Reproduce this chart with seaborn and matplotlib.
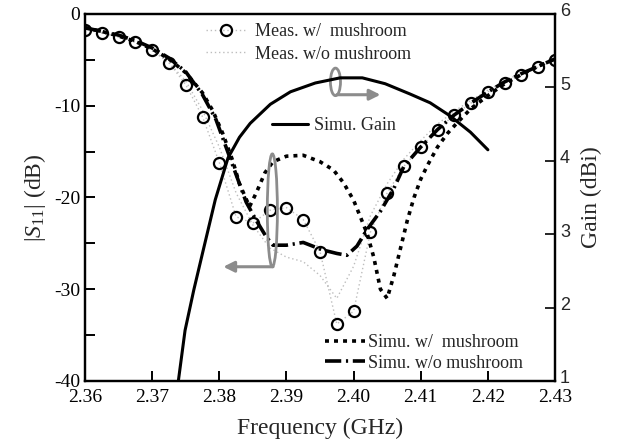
import matplotlib
matplotlib.use("Agg")
import matplotlib.pyplot as plt
import matplotlib.transforms as mtransforms
from matplotlib.patches import Ellipse
from matplotlib.lines import Line2D
import seaborn as sns
import pandas as pd
import numpy as np

sns.set_style("ticks")
plt.rcParams['font.family'] = ['Liberation Serif', 'DejaVu Serif']
plt.rcParams['mathtext.fontset'] = 'custom'
plt.rcParams['mathtext.rm'] = 'Liberation Serif'
plt.rcParams['mathtext.it'] = 'Liberation Serif:italic'
plt.rcParams['axes.unicode_minus'] = False

# measured, with mushroom (circles)
meas_w_f = [2.3600, 2.3625, 2.3650, 2.3675, 2.3700, 2.3725, 2.3750, 2.3775, 2.3800,
            2.3825, 2.3850, 2.3875, 2.3900, 2.3925, 2.3950, 2.3975, 2.4000, 2.4025,
            2.4050, 2.4075, 2.4100, 2.4125, 2.4150, 2.4175, 2.4200, 2.4225, 2.4250,
            2.4275, 2.4300]
meas_w_s = [-1.7, -2.1, -2.5, -3.0, -3.9, -5.3, -7.7, -11.2, -16.2,
            -22.1, -22.8, -21.4, -21.1, -22.4, -25.9, -33.8, -32.4, -23.8,
            -19.5, -16.6, -14.5, -12.6, -11.0, -9.7, -8.5, -7.5, -6.6,
            -5.8, -5.0]

# measured, without mushroom (faint line)
meas_wo_f = [2.3600, 2.3625, 2.3650, 2.3675, 2.3700, 2.3725, 2.3750, 2.3775, 2.3800,
             2.3825, 2.3850, 2.3875, 2.3900, 2.3925, 2.3950, 2.3975, 2.4000, 2.4025,
             2.4050, 2.4075, 2.4100, 2.4125, 2.4150, 2.4175, 2.4200, 2.4225, 2.4250,
             2.4275, 2.4300]
meas_wo_s = [-1.6, -2.0, -2.5, -3.1, -4.0, -5.3, -7.3, -10.5, -14.5,
             -19.5, -23.0, -25.5, -26.5, -27.0, -28.5, -31.0, -27.5, -22.0,
             -18.5, -15.8, -13.8, -12.0, -10.6, -9.4, -8.3, -7.3, -6.4,
             -5.6, -4.9]

# simulated, with mushroom
simu_w_f = [2.3600, 2.3625, 2.3650, 2.3675, 2.3700, 2.3725, 2.3750, 2.3775, 2.3790,
            2.3805, 2.3820, 2.3830, 2.3845, 2.3855, 2.3868, 2.3880, 2.3900, 2.3925,
            2.3950, 2.3970, 2.3985, 2.4000, 2.4010, 2.4020, 2.4030, 2.4040, 2.4050,
            2.4060, 2.4070, 2.4080, 2.4090, 2.4100, 2.4110, 2.4125, 2.4140, 2.4155,
            2.4175, 2.4200, 2.4225, 2.4250, 2.4275, 2.4300]
simu_w_s = [-1.5, -1.9, -2.4, -3.0, -3.8, -4.9, -6.4, -8.6, -10.5,
            -13.0, -16.0, -18.5, -21.0, -19.5, -17.3, -16.1, -15.5, -15.4,
            -16.1, -17.0, -18.4, -20.3, -22.1, -23.9, -26.5, -30.0, -31.0,
            -28.5, -25.5, -22.5, -20.0, -18.0, -16.5, -14.5, -13.0, -11.8,
            -10.3, -8.9, -7.6, -6.6, -5.7, -4.9]

# simulated, without mushroom
simu_wo_f = [2.3600, 2.3625, 2.3650, 2.3675, 2.3700, 2.3725, 2.3750, 2.3775, 2.3795,
             2.3810, 2.3825, 2.3840, 2.3855, 2.3870, 2.3880, 2.3900, 2.3925, 2.3953,
             2.3975, 2.3990, 2.4005, 2.4020, 2.4040, 2.4060, 2.4075, 2.4100, 2.4125,
             2.4150, 2.4175, 2.4200, 2.4225, 2.4250, 2.4275, 2.4300]
simu_wo_s = [-1.5, -1.9, -2.3, -2.9, -3.7, -4.8, -6.3, -8.8, -11.5,
             -14.5, -17.5, -20.5, -22.5, -24.3, -25.2, -25.2, -24.9, -25.7,
             -26.1, -26.3, -25.3, -23.5, -21.5, -19.0, -16.6, -14.5, -12.6,
             -11.0, -9.7, -8.5, -7.4, -6.5, -5.7, -4.9]

# simulated gain
gain_f = [2.3739, 2.3749, 2.3762, 2.3776, 2.3794, 2.3813, 2.3830, 2.3846, 2.3876,
          2.3906, 2.3943, 2.3980, 2.4013, 2.4047, 2.4084, 2.4114, 2.4144, 2.4174,
          2.4200]
gain_v = [1.00, 1.69, 2.24, 2.78, 3.47, 4.04, 4.32, 4.51, 4.77,
          4.94, 5.06, 5.13, 5.13, 5.05, 4.91, 4.79, 4.61, 4.39,
          4.15]

gray = '#8c8c8c'
faint = '#bdbdbd'

fig = plt.figure(figsize=(6.27, 4.47), dpi=100)
ax = fig.add_subplot(111)
fig.subplots_adjust(left=0.1356, right=0.8852, top=0.9687, bottom=0.1477)
ax2 = ax.twinx()

sns.lineplot(x=meas_wo_f, y=meas_wo_s, ax=ax, color=faint, lw=1.0,
             linestyle=(0, (1, 2)), estimator=None)
sns.lineplot(x=meas_w_f, y=meas_w_s, ax=ax, color=faint, lw=1.0,
             linestyle=(0, (1, 2)), estimator=None)
ax.plot(meas_w_f, meas_w_s, ls='none', marker='o', ms=8, mfc='none',
        mec='black', mew=1.6)
sns.lineplot(x=simu_w_f, y=simu_w_s, ax=ax, color='black', lw=2.6,
             linestyle=(0, (1.1, 1.4)), estimator=None)
sns.lineplot(x=simu_wo_f, y=simu_wo_s, ax=ax, color='black', lw=2.6,
             linestyle=(0, (4.5, 1.3, 0.6, 1.3)), estimator=None)
sns.lineplot(x=gain_f, y=gain_v, ax=ax2, color='black', lw=2.2, estimator=None)

ax.set_xlim(2.36, 2.43)
ax.set_ylim(-40, 0)
ax2.set_ylim(1, 6)
ax.set_xticks(np.arange(2.36, 2.4301, 0.01))
ax.set_xticklabels(['2.36', '2.37', '2.38', '2.39', '2.40', '2.41', '2.42', '2.43'])
ax.set_yticks([-40, -30, -20, -10, 0])
ax.set_yticks(np.arange(-40, 1, 5), minor=True)
ax2.set_yticks([1, 2, 3, 4, 5, 6])

for a in (ax, ax2):
    for sp in a.spines.values():
        sp.set_linewidth(1.6)
        sp.set_color('black')
ax.tick_params(axis='both', which='both', direction='in', length=7, width=1.4,
               labelsize=14, top=False, right=False, colors='black')
ax2.tick_params(axis='y', which='both', direction='in', length=7, width=1.4,
                labelsize=13)
# right-axis labels are sans-serif and sit a touch high in the original
nudge = mtransforms.ScaledTranslation(0, 3 / 72, fig.dpi_scale_trans)
for t in ax2.get_yticklabels():
    t.set_fontfamily('Liberation Sans')
    t.set_transform(t.get_transform() + nudge)
ax.tick_params(axis='x', pad=6)

ax.set_xlabel('Frequency (GHz)', fontsize=17, labelpad=8)
ax.set_ylabel('|$S_{11}$| (dB)', fontsize=17, labelpad=4)
ax2.set_ylabel('Gain (dBi)', fontsize=17, labelpad=8)

# annotation ellipses and arrows
ax.add_patch(Ellipse((2.3879, -21.4), 0.0015, 12.3, fill=False, ec=gray, lw=2, zorder=5))
ax.annotate('', xy=(2.3806, -27.55), xytext=(2.3880, -27.55),
            arrowprops=dict(arrowstyle='-|>', color=gray, lw=2.2, mutation_scale=16,
                            shrinkA=0, shrinkB=0))
ax.add_patch(Ellipse((2.3973, -7.4), 0.0015, 3.0, fill=False, ec=gray, lw=2, zorder=5))
ax.annotate('', xy=(2.4040, -8.8), xytext=(2.3975, -8.8),
            arrowprops=dict(arrowstyle='-|>', color=gray, lw=2.2, mutation_scale=16,
                            shrinkA=0, shrinkB=0))

# legends
h_meas = [Line2D([], [], color=faint, lw=1.0, ls=(0, (1, 2)), marker='o', ms=8,
                 mfc='none', mec='black', mew=1.6),
          Line2D([], [], color=faint, lw=1.0, ls=(0, (1, 2)))]
leg1 = ax2.legend(h_meas, ['Meas. w/  mushroom', 'Meas. w/o mushroom'],
                  loc='upper left', bbox_to_anchor=(0.257, 0.975), frameon=False,
                  fontsize=13, handlelength=2.2, handletextpad=0.5,
                  labelspacing=0.3, borderpad=0, borderaxespad=0)
ax2.add_artist(leg1)
h_gain = [Line2D([], [], color='black', lw=2.2)]
leg2 = ax2.legend(h_gain, ['Simu. Gain'], loc='upper left',
                  bbox_to_anchor=(0.398, 0.718), frameon=False, fontsize=13,
                  handlelength=2.0, handletextpad=0.3, borderpad=0, borderaxespad=0)
ax2.add_artist(leg2)
h_simu = [Line2D([], [], color='black', lw=2.6, ls=(0, (1.1, 1.4))),
          Line2D([], [], color='black', lw=2.6, ls=(0, (4.5, 1.3, 0.6, 1.3)))]
ax2.legend(h_simu, ['Simu. w/  mushroom', 'Simu. w/o mushroom'], loc='upper left',
           bbox_to_anchor=(0.511, 0.128), frameon=False, fontsize=13,
           handlelength=2.2, handletextpad=0.15, labelspacing=0.2,
           borderpad=0, borderaxespad=0)

fig.savefig('out.png', dpi=100)
